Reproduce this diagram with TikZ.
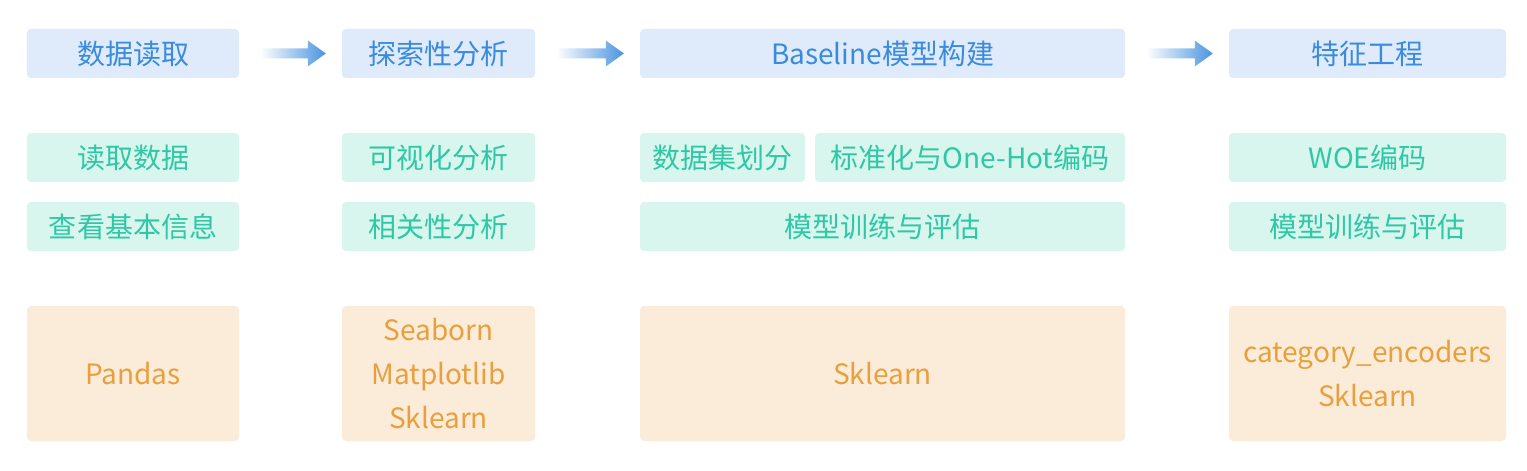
\documentclass[tikz,border=0pt]{standalone}
\usepackage{fontspec}
\setmainfont{Noto Sans CJK SC}
\usetikzlibrary{calc}
\definecolor{bluefill}{HTML}{DFEBFA}
\definecolor{bluetext}{HTML}{3A8BDE}
\definecolor{greenfill}{HTML}{D8F5EE}
\definecolor{greentext}{HTML}{2EC8A6}
\definecolor{orangefill}{HTML}{FBEBD9}
\definecolor{orangetext}{HTML}{E8A03E}
\definecolor{arrowblue}{HTML}{4A94E0}
\tikzset{
  base/.style={rounded corners=4bp, inner sep=0pt, align=center, font=\fontsize{28bp}{44bp}\selectfont},
  stage/.style={base, fill=bluefill, text=bluetext, minimum height=49bp},
  task/.style={base, fill=greenfill, text=greentext, minimum height=49bp},
  tool/.style={base, fill=orangefill, text=orangetext, minimum height=135bp},
}
\newcommand{\gradarrow}[2]{%
  \shade[left color=white, right color=arrowblue]
    ($(#1.east)+(21bp,-5bp)$) -- ($(#2.west)+(-34bp,-5bp)$) -- ($(#2.west)+(-34bp,-13bp)$)
    -- ($(#2.west)+(-16bp,0bp)$) -- ($(#2.west)+(-34bp,13bp)$) -- ($(#2.west)+(-34bp,5bp)$)
    -- ($(#1.east)+(21bp,5bp)$) -- cycle;}
\begin{document}
\begin{tikzpicture}[x=1bp,y=-1bp]
\useasboundingbox (0,0) rectangle (1527,471);
% row 1
\node[stage, minimum width=212bp] (s1) at (133,53.5) {数据读取};
\node[stage, minimum width=193bp] (s2) at (438.5,53.5) {探索性分析};
\node[stage, minimum width=485bp] (s3) at (882.5,53.5) {Baseline模型构建};
\node[stage, minimum width=277bp] (s4) at (1367.5,53.5) {特征工程};
% row 2
\node[task, minimum width=212bp] (a1) at (133,157.5) {读取数据};
\node[task, minimum width=193bp] (a2) at (438.5,157.5) {可视化分析};
\node[task, minimum width=165bp] (a3) at (722.5,157.5) {数据集划分};
\node[task, minimum width=310bp] (a4) at (970,157.5) {标准化与One-Hot编码};
\node[task, minimum width=277bp] (a5) at (1367.5,157.5) {WOE编码};
% row 3
\node[task, minimum width=212bp] (b1) at (133,226.5) {查看基本信息};
\node[task, minimum width=193bp] (b2) at (438.5,226.5) {相关性分析};
\node[task, minimum width=485bp] (b3) at (882.5,226.5) {模型训练与评估};
\node[task, minimum width=277bp] (b4) at (1367.5,226.5) {模型训练与评估};
% row 4
\node[tool, minimum width=212bp] (t1) at (133,373.5) {Pandas};
\node[tool, minimum width=193bp] (t2) at (438.5,373.5) {Seaborn\\Matplotlib\\Sklearn};
\node[tool, minimum width=485bp] (t3) at (882.5,373.5) {Sklearn};
\node[tool, minimum width=277bp] (t4) at (1367.5,373.5) {category\_encoders\\Sklearn};
% arrows
\gradarrow{s1}{s2}
\gradarrow{s2}{s3}
\gradarrow{s3}{s4}
\end{tikzpicture}
\end{document}
